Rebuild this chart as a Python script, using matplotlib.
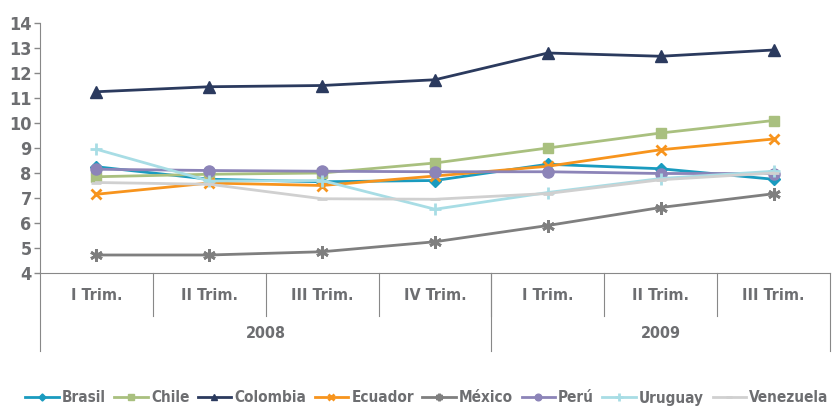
import numpy as np
import matplotlib.pyplot as plt

# ── data ────────────────────────────────────────────
quarters = ["I Trim.", "II Trim.", "III Trim.", "IV Trim.", "I Trim.", "II Trim.", "III Trim."]
years = ["2008", "2009"]
year_span = [4, 3]

brasil    = [8.25, 7.75, 7.65, 7.70, 8.35, 8.17, 7.75]
chile     = [7.85, 7.95, 8.00, 8.40, 9.00, 9.60, 10.10]
colombia  = [11.25, 11.45, 11.50, 11.73, 12.80, 12.67, 12.92]
ecuador   = [7.15, 7.60, 7.50, 7.88, 8.27, 8.93, 9.36]
mexico    = [4.72, 4.72, 4.85, 5.25, 5.90, 6.62, 7.17]
peru      = [8.15, 8.10, 8.07, 8.05, 8.05, 7.98, 7.98]
uruguay   = [8.95, 7.68, 7.70, 6.55, 7.22, 7.78, 8.07]
venezuela = [7.62, 7.55, 6.97, 6.95, 7.18, 7.73, 8.00]

series = [
    ("Brasil", brasil, "#1a9bbf", "D", 6),
    ("Chile", chile, "#a9c07f", "s", 7),
    ("Colombia", colombia, "#2b3a5e", "^", 8),
    ("Ecuador", ecuador, "#f7941d", "x", 7),
    ("México", mexico, "#7f7f7f", (6, 2, 0), 9),
    ("Perú", peru, "#8c84b8", "o", 8),
    ("Uruguay", uruguay, "#a8dde5", "+", 9),
    ("Venezuela", venezuela, "#d0d0d0", "_", 7),
]

plt.rcParams["font.family"] = ["DejaVu Sans"]
plt.rcParams["font.stretch"] = "condensed"
plt.rcParams["font.weight"] = "bold"
txt = "#6d6e71"

fig = plt.figure(figsize=(8.37, 4.07), dpi=100)
ax = fig.add_axes([40 / 837, 1 - 273 / 407, 790 / 837, 250 / 407])

x = np.arange(len(quarters))
for name, vals, color, marker, ms in series:
    ax.plot(x, vals, color=color, lw=2, marker=marker, ms=ms,
            mew=2 if marker in ("x", "+", (6, 2, 0), "_") else 1, label=name)

ax.set_xlim(-0.5, len(quarters) - 0.5)
ax.set_ylim(4, 14)
ax.set_yticks(range(4, 15))
ax.tick_params(axis="y", labelsize=13, length=4, width=1, pad=2,
               colors="#888888", labelcolor=txt)
ax.set_xticks([])
for s in ("top", "right"):
    ax.spines[s].set_visible(False)
for s in ("left", "bottom"):
    ax.spines[s].set_color("#888888")

# multi-level category axis
tr = ax.get_xaxis_transform()
for i, q in enumerate(quarters):
    ax.text(i, -0.092, q, transform=tr, ha="center", va="center",
            fontsize=11.5, color=txt, fontweight="bold")
for b in np.arange(0.5, len(quarters) - 1, 1.0):
    ax.plot([b, b], [0, -0.17], transform=tr, color="#888888", lw=0.8, clip_on=False)
edges = np.concatenate([[0], np.cumsum(year_span)]) - 0.5
for k, y in enumerate(years):
    mid = (edges[k] + edges[k + 1]) / 2
    ax.text(mid, -0.24, y, transform=tr, ha="center", va="center",
            fontsize=11.5, color=txt, fontweight="bold")
for e in edges:
    ax.plot([e, e], [0, -0.31], transform=tr, color="#888888", lw=0.8, clip_on=False)

leg = fig.legend(loc="center", bbox_to_anchor=(0.51, 1 - 398 / 407), ncol=8,
                 frameon=False, fontsize=11, handlelength=2.2, handletextpad=0.2,
                 columnspacing=0.55, markerscale=0.6, borderpad=0.2)
for t in leg.get_texts():
    t.set_color(txt)

fig.savefig("out.png", dpi=100)
